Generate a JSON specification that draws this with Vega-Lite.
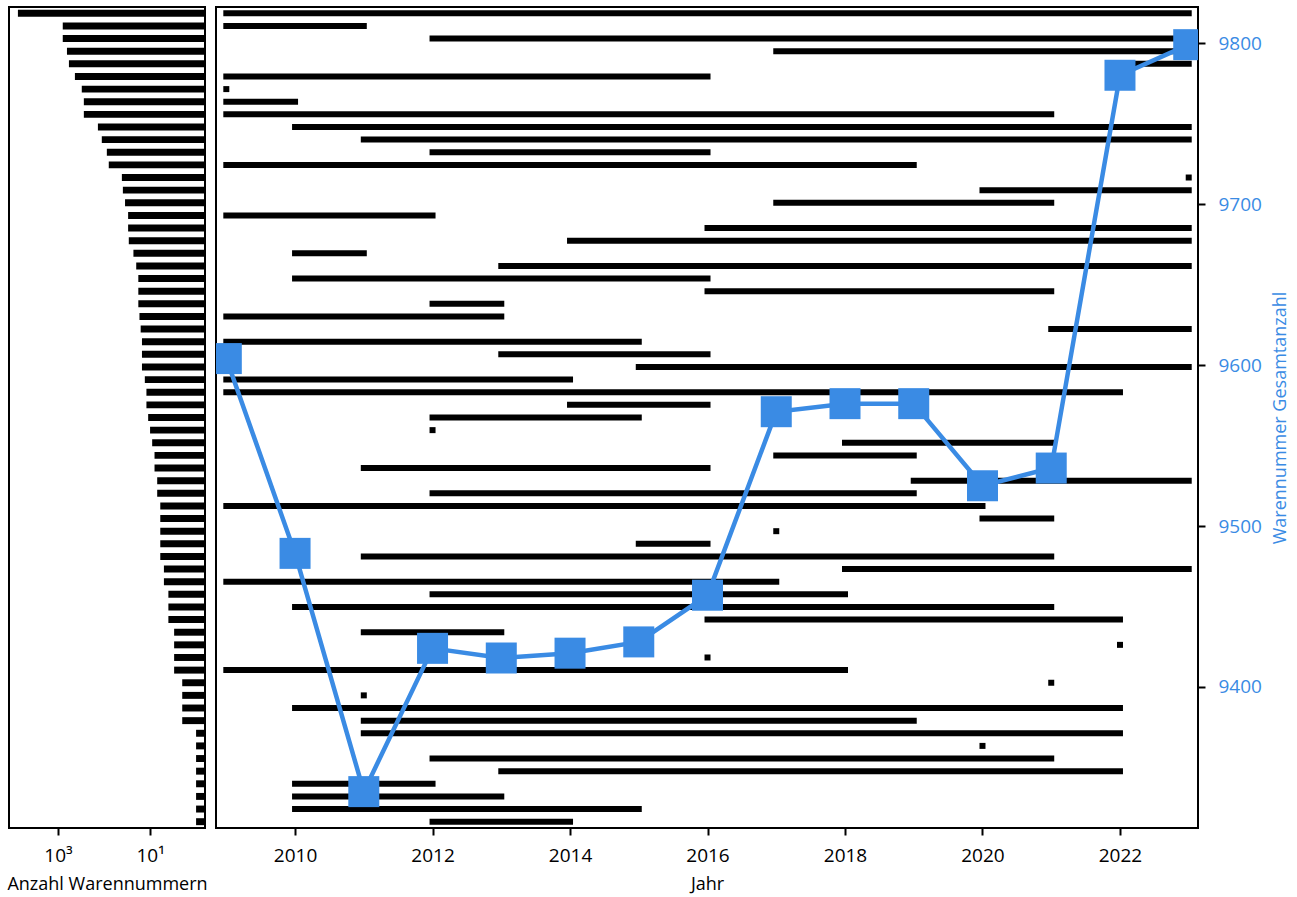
{
  "$schema": "https://vega.github.io/schema/vega-lite/v6.json",
  "padding": {"left": 5, "top": 6, "right": 0, "bottom": 0},
  "bounds": "flush",
  "spacing": 11,
  "config": {
    "view": {"stroke": "black", "strokeWidth": 2},
    "axis": {
      "domain": false,
      "grid": false,
      "tickColor": "black",
      "tickWidth": 2,
      "tickSize": 7,
      "labelFont": "Open Sans",
      "labelFontSize": 19,
      "labelColor": "black",
      "labelPadding": 11,
      "titleFont": "Open Sans",
      "titleFontSize": 18,
      "titleFontWeight": "normal",
      "titleColor": "black",
      "titlePadding": 10
    }
  },
  "datasets": {
    "rows": [
      {"r": 0, "count": 7450, "start": 2009, "end": 2023},
      {"r": 1, "count": 790, "start": 2009, "end": 2011},
      {"r": 2, "count": 790, "start": 2012, "end": 2023},
      {"r": 3, "count": 640, "start": 2017, "end": 2023},
      {"r": 4, "count": 580, "start": 2022, "end": 2023},
      {"r": 5, "count": 430, "start": 2009, "end": 2016},
      {"r": 6, "count": 305, "start": 2009, "end": 2009},
      {"r": 7, "count": 275, "start": 2009, "end": 2010},
      {"r": 8, "count": 275, "start": 2009, "end": 2021},
      {"r": 9, "count": 136, "start": 2010, "end": 2023},
      {"r": 10, "count": 112, "start": 2011, "end": 2023},
      {"r": 11, "count": 87, "start": 2012, "end": 2016},
      {"r": 12, "count": 79, "start": 2009, "end": 2019},
      {"r": 13, "count": 41, "start": 2023, "end": 2023},
      {"r": 14, "count": 39, "start": 2020, "end": 2023},
      {"r": 15, "count": 35, "start": 2017, "end": 2021},
      {"r": 16, "count": 30, "start": 2009, "end": 2012},
      {"r": 17, "count": 30, "start": 2016, "end": 2023},
      {"r": 18, "count": 29, "start": 2014, "end": 2023},
      {"r": 19, "count": 23, "start": 2010, "end": 2011},
      {"r": 20, "count": 20, "start": 2013, "end": 2023},
      {"r": 21, "count": 18, "start": 2010, "end": 2016},
      {"r": 22, "count": 18, "start": 2016, "end": 2021},
      {"r": 23, "count": 18, "start": 2012, "end": 2013},
      {"r": 24, "count": 17, "start": 2009, "end": 2013},
      {"r": 25, "count": 16, "start": 2021, "end": 2023},
      {"r": 26, "count": 15, "start": 2009, "end": 2015},
      {"r": 27, "count": 15, "start": 2013, "end": 2016},
      {"r": 28, "count": 15, "start": 2015, "end": 2023},
      {"r": 29, "count": 13, "start": 2009, "end": 2014},
      {"r": 30, "count": 12, "start": 2009, "end": 2022},
      {"r": 31, "count": 12, "start": 2014, "end": 2016},
      {"r": 32, "count": 11, "start": 2012, "end": 2015},
      {"r": 33, "count": 10, "start": 2012, "end": 2012},
      {"r": 34, "count": 9, "start": 2018, "end": 2021},
      {"r": 35, "count": 8, "start": 2017, "end": 2019},
      {"r": 36, "count": 8, "start": 2011, "end": 2016},
      {"r": 37, "count": 7, "start": 2019, "end": 2023},
      {"r": 38, "count": 7, "start": 2012, "end": 2019},
      {"r": 39, "count": 6, "start": 2009, "end": 2020},
      {"r": 40, "count": 6, "start": 2020, "end": 2021},
      {"r": 41, "count": 6, "start": 2017, "end": 2017},
      {"r": 42, "count": 6, "start": 2015, "end": 2016},
      {"r": 43, "count": 6, "start": 2011, "end": 2021},
      {"r": 44, "count": 5, "start": 2018, "end": 2023},
      {"r": 45, "count": 5, "start": 2009, "end": 2017},
      {"r": 46, "count": 4, "start": 2012, "end": 2018},
      {"r": 47, "count": 4, "start": 2010, "end": 2021},
      {"r": 48, "count": 4, "start": 2016, "end": 2022},
      {"r": 49, "count": 3, "start": 2011, "end": 2013},
      {"r": 50, "count": 3, "start": 2022, "end": 2022},
      {"r": 51, "count": 3, "start": 2016, "end": 2016},
      {"r": 52, "count": 3, "start": 2009, "end": 2018},
      {"r": 53, "count": 2, "start": 2021, "end": 2021},
      {"r": 54, "count": 2, "start": 2011, "end": 2011},
      {"r": 55, "count": 2, "start": 2010, "end": 2022},
      {"r": 56, "count": 2, "start": 2011, "end": 2019},
      {"r": 57, "count": 1, "start": 2011, "end": 2022},
      {"r": 58, "count": 1, "start": 2020, "end": 2020},
      {"r": 59, "count": 1, "start": 2012, "end": 2021},
      {"r": 60, "count": 1, "start": 2013, "end": 2022},
      {"r": 61, "count": 1, "start": 2010, "end": 2012},
      {"r": 62, "count": 1, "start": 2010, "end": 2013},
      {"r": 63, "count": 1, "start": 2010, "end": 2015},
      {"r": 64, "count": 1, "start": 2012, "end": 2014}
    ],
    "totals": [
      {"year": 2009, "total": 9604},
      {"year": 2010, "total": 9483},
      {"year": 2011, "total": 9335},
      {"year": 2012, "total": 9424},
      {"year": 2013, "total": 9418},
      {"year": 2014, "total": 9421},
      {"year": 2015, "total": 9428},
      {"year": 2016, "total": 9457},
      {"year": 2017, "total": 9571},
      {"year": 2018, "total": 9576},
      {"year": 2019, "total": 9576},
      {"year": 2020, "total": 9525},
      {"year": 2021, "total": 9536},
      {"year": 2022, "total": 9780},
      {"year": 2023, "total": 9799}
    ]
  },
  "hconcat": [
    {
      "width": 196,
      "height": 821,
      "data": {"name": "rows"},
      "mark": {"type": "bar", "color": "black"},
      "encoding": {
        "y": {"field": "r", "type": "ordinal", "axis": null, "scale": {"paddingInner": 0.45, "paddingOuter": 0.225}},
        "x": {
          "field": "count", "type": "quantitative", "stack": null,
          "scale": {"type": "log", "domain": [0.64, 11640], "reverse": true, "nice": false},
          "axis": {"values": [1000, 10], "labelExpr": "datum.value == 1000 ? '10³' : '10¹'", "title": "Anzahl Warennummern"}
        },
        "x2": {"datum": 0.64}
      }
    },
    {
      "width": 982,
      "height": 821,
      "layer": [
        {
          "data": {"name": "rows"},
          "mark": {"type": "rule", "color": "black", "strokeWidth": 6, "strokeCap": "square"},
          "encoding": {
            "y": {"field": "r", "type": "ordinal", "bandPosition": 0.5, "axis": null, "scale": {"paddingInner": 0.45, "paddingOuter": 0.225}},
            "x": {
              "field": "start", "type": "quantitative",
              "scale": {"domain": [2008.85, 2023.135], "nice": false, "zero": false},
              "axis": {"values": [2010, 2012, 2014, 2016, 2018, 2020, 2022], "format": "d", "title": "Jahr"}
            },
            "x2": {"field": "end"}
          }
        },
        {
          "data": {"name": "totals"},
          "encoding": {
            "x": {"field": "year", "type": "quantitative", "scale": {"domain": [2008.85, 2023.135], "nice": false, "zero": false}},
            "y": {
              "field": "total", "type": "quantitative",
              "scale": {"domain": [9312.4, 9822.4], "nice": false, "zero": false},
              "axis": {"orient": "right", "values": [9400, 9500, 9600, 9700, 9800], "format": "d", "title": "Warennummer Gesamtanzahl", "labelColor": "#3a8be4", "titleColor": "#3a8be4", "titleAngle": 270, "titleBaseline": "top", "labelPadding": 13, "titlePadding": 10}
            }
          },
          "layer": [
            {"mark": {"type": "line", "color": "#3a8be4", "strokeWidth": 4.5, "clip": true}},
            {"mark": {"type": "square", "color": "#3a8be4", "size": 961, "opacity": 1, "filled": true, "clip": true}}
          ]
        }
      ],
      "resolve": {"scale": {"y": "independent"}}
    }
  ]
}
